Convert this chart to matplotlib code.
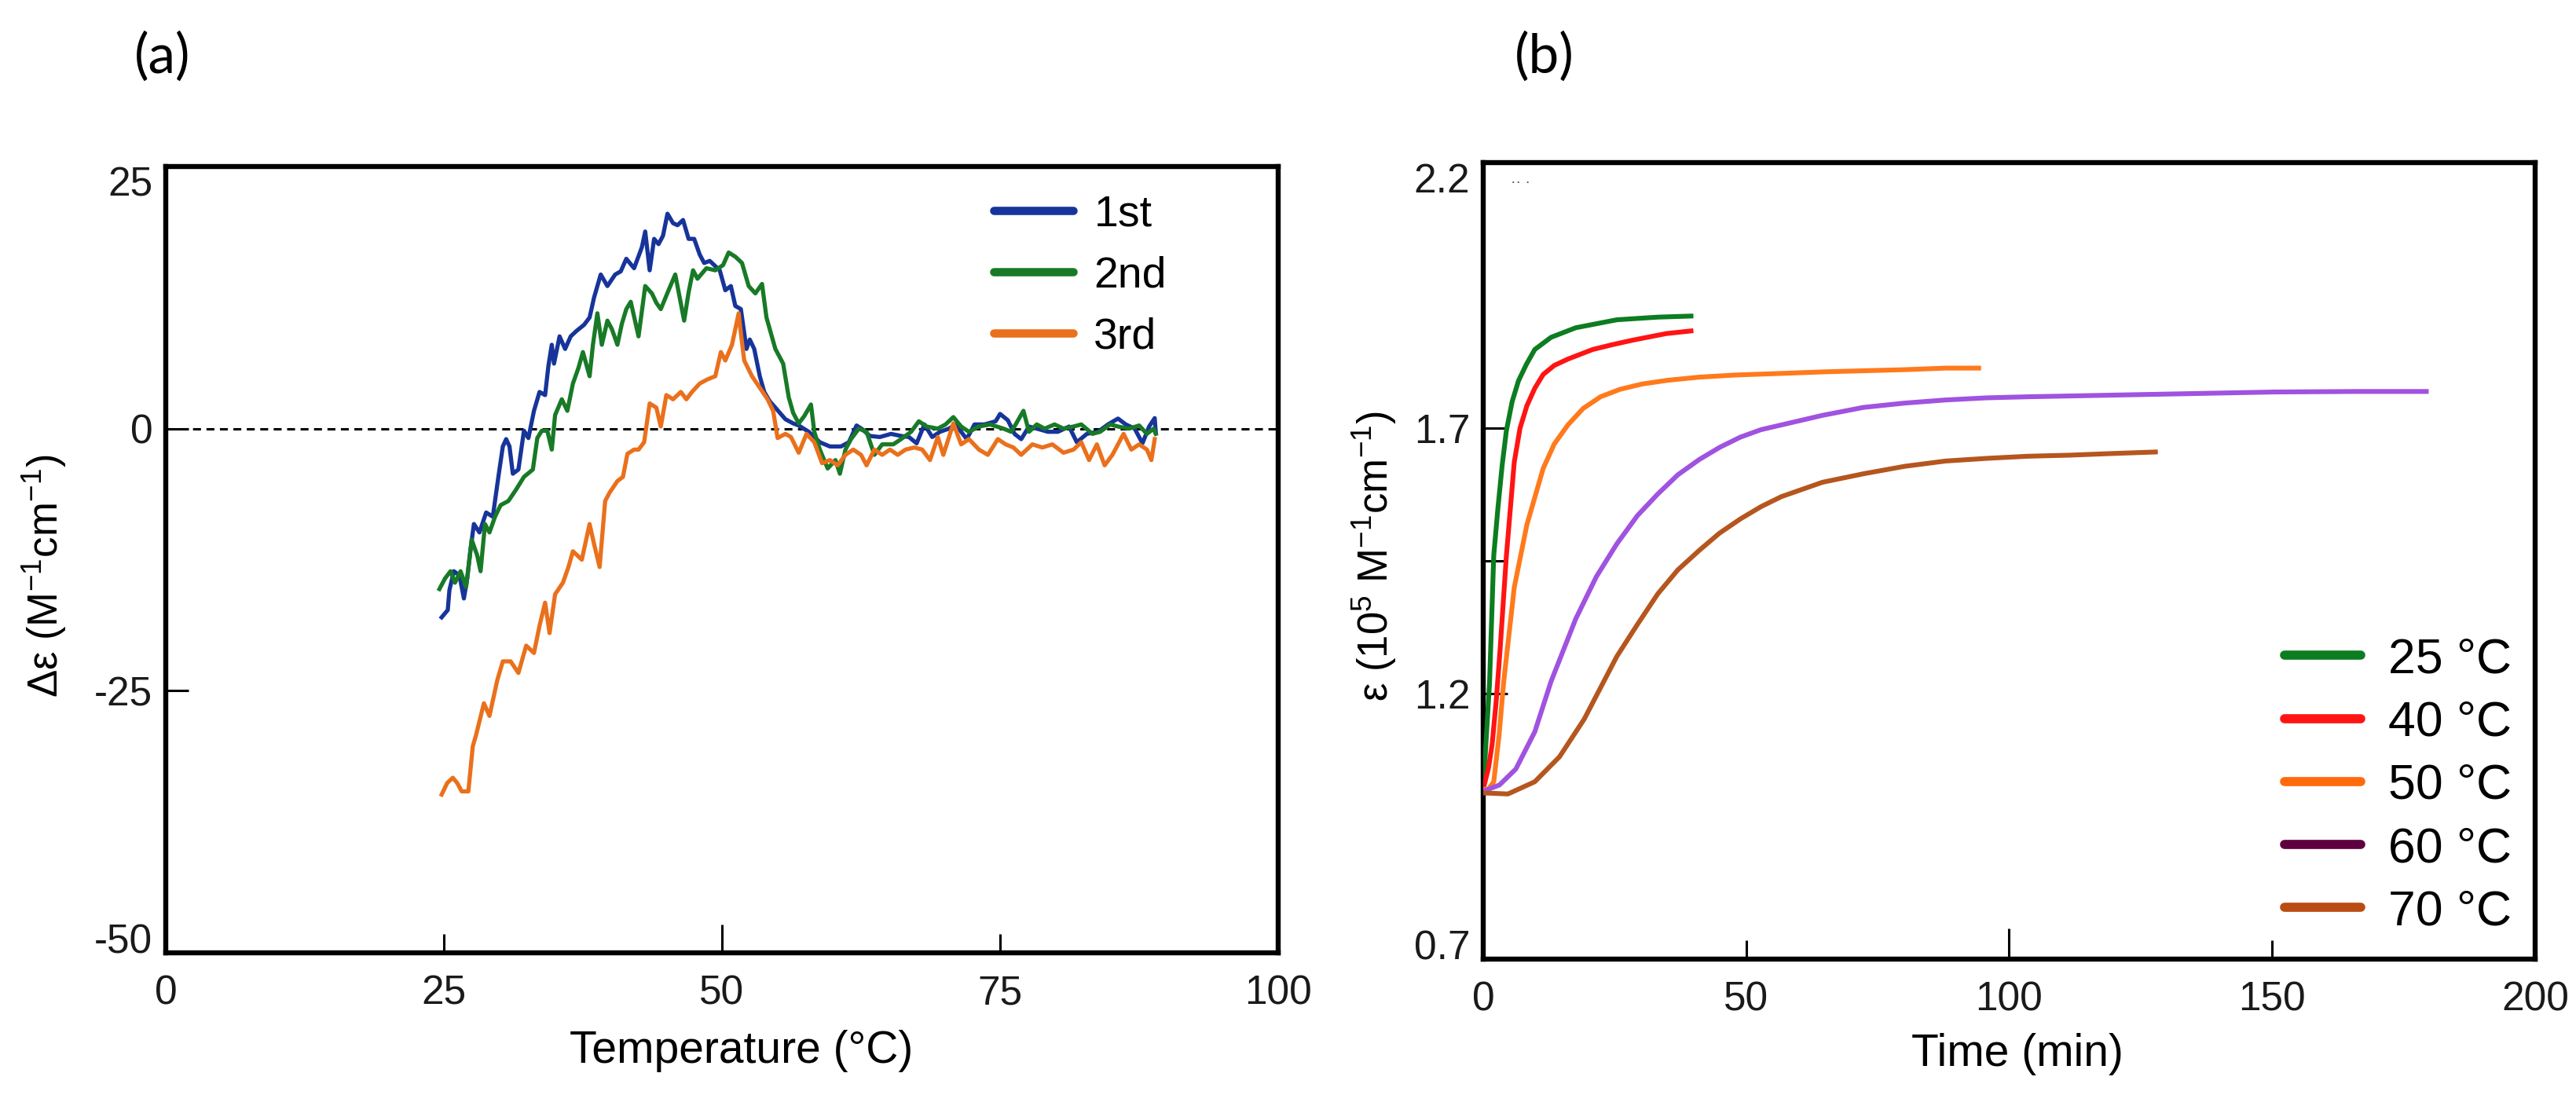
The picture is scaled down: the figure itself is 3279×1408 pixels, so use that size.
import matplotlib
matplotlib.use("Agg")
import matplotlib.pyplot as plt
from matplotlib.lines import Line2D

plt.rcParams['font.family'] = ['Liberation Sans', 'DejaVu Sans']
plt.rcParams['mathtext.fontset'] = 'custom'
plt.rcParams['mathtext.rm'] = 'Liberation Sans'
plt.rcParams['mathtext.default'] = 'regular'

# ---------------- Panel (a) data: (Temperature °C, Δε) ----------------
run1 = [(24.8,-18.0),(25.35,-17.3),(25.5,-15.4),(25.9,-13.6),(26.4,-14.0),(26.8,-16.2),(27.1,-14.3),
        (27.4,-11.5),(27.7,-9.1),(28.2,-9.9),(28.8,-8.0),(29.4,-8.4),(29.9,-4.6),(30.3,-1.7),(30.6,-1.0),
        (30.9,-1.7),(31.2,-4.3),(31.7,-3.9),(32.2,-0.2),(32.6,-0.9),(33.1,1.7),(33.6,3.5),(34.1,3.2),
        (34.4,6.0),(34.7,8.0),(34.9,6.2),(35.4,8.8),(35.9,7.6),(36.4,8.8),(36.9,9.3),(37.6,9.9),(38.1,10.6),
        (38.5,12.5),(39.1,14.7),(39.7,13.6),(40.4,14.7),(40.9,15.0),(41.4,16.2),(42.1,15.3),(42.8,17.3),
        (43.1,18.8),(43.5,15.1),(43.9,18.1),(44.3,17.6),(44.7,18.4),(45.1,20.5),(45.6,19.6),(46.0,19.4),
        (46.5,19.9),(47.0,18.1),(47.5,18.1),(48.0,16.6),(48.4,15.8),(48.9,16.0),(49.4,15.5),(49.8,15.1),
        (50.3,13.2),(50.8,13.6),(51.2,11.7),(51.7,11.4),(52.2,7.6),(52.5,8.5),(52.9,7.6),(53.4,5.0),
        (53.8,3.5),(54.3,2.6),(54.8,2.0),(55.7,0.9),(56.4,0.5),(56.9,0.3),(57.8,-0.3),(58.8,-1.3),
        (59.7,-1.7),(60.7,-1.7),(61.4,-1.3),(62.1,0.3),(62.6,-0.05),(63.3,-0.7),(64.2,-0.8),(65.2,-0.5),
        (66.1,-0.7),(66.8,-0.8),(67.5,-1.4),(68.2,0.4),(68.9,-0.8),(69.6,-0.3),(70.4,0.0),(71.0,0.4),
        (72.0,-1.0),(72.7,0.4),(73.6,0.4),(74.6,0.7),(75.0,1.4),(75.7,0.8),(76.3,-0.5),(76.9,-1.0),
        (77.6,0.2),(78.3,0.0),(79.3,-0.3),(80.2,-0.3),(81.2,0.2),(81.9,-1.3),(82.8,-0.5),(83.8,-0.3),
        (84.7,0.4),(85.6,0.96),(86.3,0.4),(87.1,0.0),(87.8,-1.4),(88.4,0.2),(88.9,1.0),(89.0,-0.4)]

run2 = [(24.6,-15.3),(25.1,-14.3),(25.6,-13.6),(26.0,-14.7),(26.5,-13.6),(27.0,-15.1),(27.5,-10.6),
        (28.0,-12.1),(28.3,-13.6),(28.7,-9.1),(29.1,-9.9),(29.6,-8.4),(30.1,-7.3),(30.8,-6.9),(31.5,-5.8),
        (32.2,-4.6),(33.0,-3.9),(33.4,-0.9),(33.8,-0.2),(34.3,-0.2),(34.7,-2.0),(35.0,1.3),(35.6,2.8),
        (36.1,1.7),(36.6,4.3),(37.1,5.8),(37.5,7.3),(38.1,5.0),(38.4,8.0),(38.8,11.0),(39.2,8.0),
        (39.7,10.3),(40.1,9.5),(40.6,8.0),(41.0,10.0),(41.4,11.4),(41.8,12.1),(42.5,8.8),(43.1,13.6),
        (43.7,12.9),(44.1,12.0),(44.5,11.4),(45.2,13.2),(45.8,14.7),(46.2,12.5),(46.6,10.3),(47.0,13.0),
        (47.4,15.1),(47.8,14.3),(48.6,15.3),(49.4,15.1),(50.1,15.6),(50.6,16.8),(51.2,16.4),(51.8,15.8),
        (52.4,13.6),(53.0,12.9),(53.6,13.8),(54.0,10.6),(54.8,7.6),(55.5,6.2),(56.0,3.0),(56.4,1.5),
        (56.9,0.5),(57.4,1.2),(58.0,2.3),(58.3,-0.3),(58.8,-2.0),(59.5,-3.8),(60.2,-3.0),(60.6,-4.3),
        (61.1,-2.0),(61.6,-1.0),(62.3,0.0),(63.0,-0.3),(63.7,-2.5),(64.4,-1.5),(65.4,-1.5),(66.1,-1.0),
        (67.0,-0.3),(67.7,0.7),(68.4,0.2),(69.4,0.0),(70.1,0.4),(70.8,1.1),(71.5,0.2),(72.2,-0.3),
        (73.1,0.2),(74.1,0.4),(75.3,0.0),(76.0,-0.3),(76.4,0.4),(77.1,1.7),(77.6,-0.3),(78.3,0.4),
        (79.0,0.0),(79.9,0.4),(80.7,0.0),(81.6,0.2),(82.3,0.4),(83.3,-0.5),(84.0,-0.3),(84.9,0.4),
        (85.6,0.2),(86.6,0.0),(87.5,0.3),(88.2,-0.5),(88.8,0.0),(89.0,-0.5)]

run3 = [(24.8,-34.9),(25.3,-33.8),(25.8,-33.3),(26.2,-33.8),(26.6,-34.6),(27.2,-34.6),(27.6,-30.3),
        (27.9,-29.2),(28.6,-26.2),(29.1,-27.4),(29.8,-24.0),(30.3,-22.2),(31.0,-22.2),(31.7,-23.3),
        (32.4,-20.7),(33.1,-21.4),(33.6,-18.8),(34.1,-16.6),(34.5,-19.5),(35.0,-15.8),(35.7,-14.7),
        (36.2,-13.2),(36.6,-11.7),(37.4,-12.5),(38.1,-9.1),(38.5,-11.0),(39.0,-13.2),(39.5,-6.9),
        (39.9,-6.1),(40.6,-5.0),(41.1,-4.6),(41.5,-2.4),(42.1,-2.0),(42.5,-2.0),(43.0,-1.3),(43.5,2.4),
        (44.1,2.0),(44.5,0.2),(45.0,3.2),(45.6,2.8),(46.3,3.5),(46.8,2.8),(47.3,3.5),(48.0,4.3),
        (48.7,4.7),(49.4,5.0),(49.9,7.3),(50.3,6.5),(50.9,8.0),(51.2,9.5),(51.5,11.0),(51.7,9.1),
        (52.0,6.5),(52.7,5.0),(53.4,3.9),(54.1,2.8),(54.6,1.7),(55.0,-0.9),(55.7,-0.5),(56.2,-0.8),
        (56.9,-2.3),(57.6,-0.5),(58.3,-1.3),(59.0,-3.3),(59.7,-3.0),(60.4,-3.5),(61.1,-2.5),(61.8,-2.0),
        (62.5,-2.5),(63.0,-3.5),(63.7,-2.0),(64.4,-2.5),(65.1,-2.0),(65.8,-2.5),(66.5,-2.0),(67.3,-1.8),
        (68.0,-2.0),(68.7,-3.0),(69.4,-0.8),(69.9,-2.5),(70.8,0.5),(71.5,-1.5),(72.2,-1.0),(73.1,-2.0),
        (73.9,-2.5),(74.8,-1.0),(75.5,-1.5),(76.2,-1.8),(76.9,-2.5),(77.9,-1.5),(78.8,-1.8),(79.7,-1.5),
        (80.7,-2.3),(81.6,-2.0),(82.3,-1.3),(83.0,-3.0),(83.7,-1.5),(84.4,-3.5),(85.1,-2.5),(86.1,-0.5),
        (86.8,-2.0),(87.5,-1.5),(88.2,-2.0),(88.6,-3.0),(88.9,-1.0)]

runs_a = [run1, run2, run3]
labels_a = ["1st", "2nd", "3rd"]
colors_a = ["#17349a", "#187a26", "#ea701c"]
xticks_a_major = [0, 50, 100]
xticks_a_minor = [25, 75]
yticks_a = [-50, -25, 0, 25]

# ---------------- Panel (b) data: time (min), ε (10^5 M^-1 cm^-1) ----------------
t25 = [0, 1.2, 2.0, 2.8, 3.6, 4.4, 5.5, 6.7, 8.2, 9.8, 12.9, 17.6, 25.4, 33.2, 39.5]
e25 = [1.02, 1.22, 1.46, 1.55, 1.63, 1.695, 1.75, 1.789, 1.82, 1.848, 1.871, 1.889, 1.904, 1.909, 1.911]
t40 = [0, 1.0, 1.7, 2.5, 3.2, 4.4, 5.9, 7.0, 8.3, 9.8, 11.4, 13.5, 16.1, 20.8, 24.5, 28.6, 34.8, 39.5]
e40 = [1.02, 1.06, 1.105, 1.19, 1.282, 1.459, 1.636, 1.70, 1.742, 1.775, 1.801, 1.818, 1.830, 1.848,
       1.857, 1.866, 1.878, 1.883]
t50 = [0, 1.0, 2.0, 3.0, 3.9, 5.9, 8.3, 11.4, 13.5, 16.1, 19, 22.3, 26, 30.2, 35, 41.1, 48, 56.7, 65,
       72.3, 80, 87.9, 94.2]
e50 = [1.02, 1.02, 1.034, 1.12, 1.223, 1.40, 1.518, 1.624, 1.67, 1.706, 1.737, 1.759, 1.773, 1.783,
       1.79, 1.796, 1.80, 1.803, 1.806, 1.808, 1.81, 1.813, 1.813]
t60 = [0, 3.1, 6.2, 9.8, 12.9, 17.6, 21.5, 25.4, 29.3, 33.2, 37, 41.1, 45.0, 48.9, 52.8, 56.7, 64.5,
       72.3, 80, 87.9, 95.7, 103.5, 119.2, 134.8, 150.4, 166.1, 179.3]
e60 = [1.016, 1.028, 1.058, 1.128, 1.223, 1.341, 1.42, 1.482, 1.535, 1.576, 1.612, 1.641, 1.664,
       1.683, 1.697, 1.706, 1.724, 1.739, 1.747, 1.753, 1.757, 1.759, 1.762, 1.765, 1.768, 1.769, 1.769]
t70 = [0, 4.7, 9.8, 14.5, 19.2, 25.4, 29.3, 33.2, 37, 41.1, 44.9, 48.9, 52.8, 56.7, 64.5, 72.3, 80.1,
       87.9, 95.7, 103.5, 111.4, 119.2, 127.8]
e70 = [1.013, 1.011, 1.034, 1.081, 1.152, 1.270, 1.33, 1.388, 1.433, 1.470, 1.502, 1.529, 1.552,
       1.571, 1.598, 1.614, 1.628, 1.638, 1.643, 1.647, 1.649, 1.652, 1.655]

times_b = [t25, t40, t50, t60, t70]
eps_b = [e25, e40, e50, e60, e70]
labels_b = ["25 °C", "40 °C", "50 °C", "60 °C", "70 °C"]
line_colors_b = ["#0c7d20", "#ff1414", "#ff7a1c", "#a052e0", "#b5561e"]
legend_colors_b = ["#0c7d20", "#ff1414", "#ff6a0c", "#5e0040", "#b84c12"]
xticks_b_major = [0, 100, 200]
xticks_b_minor = [50, 150]
yticks_b = [0.7, 1.2, 1.7, 2.2]

# ---------------- figure ----------------
W, H, DPI = 3280, 1408, 200
fig = plt.figure(figsize=(W / DPI, H / DPI), dpi=DPI)

def fx(px):
    return px / W

def fy(py):
    return 1 - py / H

axA = fig.add_axes([fx(211), fy(1213), fx(1627) - fx(211), fy(212) - fy(1213)])
axB = fig.add_axes([fx(1888), fy(1221), fx(3227) - fx(1888), fy(207) - fy(1221)])

spine_w = 2.3
tick_fs = 18.5
for ax in (axA, axB):
    for s in ax.spines.values():
        s.set_linewidth(spine_w)
    ax.tick_params(which='both', direction='in', width=1.1, labelsize=tick_fs,
                   labelcolor='#1a1a1a', top=False, right=False)
    ax.tick_params(which='major', length=10.5)
    ax.tick_params(which='minor', length=8.5)
    ax.tick_params(axis='x', which='both', pad=10)
    ax.tick_params(axis='y', which='both', pad=6.0)

# ---- panel (a)
axA.axhline(0, color='black', lw=1.1, dashes=(3.3, 2.3), zorder=1)
for data, lab, col in zip(runs_a, labels_a, colors_a):
    xs = [p[0] for p in data]
    ys = [p[1] for p in data]
    axA.plot(xs, ys, color=col, lw=1.9, label=lab, zorder=3)
axA.set_xlim(0, 100)
axA.set_ylim(-50, 25)
axA.set_xticks(xticks_a_major, labels=[str(v) for v in xticks_a_major])
axA.set_xticks(xticks_a_minor, labels=[str(v) for v in xticks_a_minor], minor=True)
axA.tick_params(axis='x', which='major', length=13)
axA.set_yticks(yticks_a, labels=[str(v) for v in yticks_a])
yl = axA.get_yticklabels()
yl[-1].set_verticalalignment('top')
yl[0].set_verticalalignment('baseline')

hA = [Line2D([], [], color=c, lw=3.8, solid_capstyle='round') for c in colors_a]
axA.legend(hA, labels_a, loc='upper left', bbox_to_anchor=(0.744, 0.965), frameon=False,
           borderpad=0, borderaxespad=0, fontsize=20, handlelength=1.83, handletextpad=0.47,
           labelspacing=0.47)

# ---- panel (b)
for t, e, c in zip(times_b, eps_b, line_colors_b):
    axB.plot(t, e, color=c, lw=2.2, zorder=3)
axB.set_xlim(0, 200)
axB.set_ylim(0.7, 2.2)
axB.set_xticks(xticks_b_major, labels=[str(v) for v in xticks_b_major])
axB.set_xticks(xticks_b_minor, labels=[str(v) for v in xticks_b_minor], minor=True)
axB.tick_params(axis='x', which='major', length=14)
axB.set_yticks(yticks_b, labels=[f"{v:.1f}" for v in yticks_b])
axB.set_yticks([1.45], minor=True)
axB.tick_params(axis='y', which='both', length=11)
ylb = axB.get_yticklabels()
ylb[-1].set_verticalalignment('top')
ylb[0].set_verticalalignment('baseline')
axB.text(0.026, 0.975, "·· ·", transform=axB.transAxes, fontsize=7, color='#555555',
         va='center', ha='left')

hB = [Line2D([], [], color=c, lw=4.2, solid_capstyle='round') for c in legend_colors_b]
axB.legend(hB, labels_b, loc='upper left', bbox_to_anchor=(0.762, 0.405), frameon=False,
           borderpad=0, borderaxespad=0, fontsize=22.5, handlelength=1.55, handletextpad=0.56,
           labelspacing=0.34)

# ---- axis labels and panel letters
fig.text(fx(944), fy(1338), "Temperature (°C)", ha='center', va='center', fontsize=20.5)
fig.text(fx(2568), fy(1342), "Time (min)", ha='center', va='center', fontsize=20.5)
fig.text(fx(57), fy(733), "Δε (M$^{-1}$cm$^{-1}$)", ha='center', va='center', rotation=90,
         fontsize=19)
fig.text(fx(1750), fy(708), "ε (10$^{5}$ M$^{-1}$cm$^{-1}$)", ha='center', va='center', rotation=90,
         fontsize=19)
fig.text(fx(207), fy(72), "(a)", ha='center', va='center', fontsize=25, family=['Lato', 'DejaVu Sans'])
fig.text(fx(1966), fy(72), "(b)", ha='center', va='center', fontsize=25, family=['Lato', 'DejaVu Sans'])

fig.savefig("out.png", dpi=DPI, facecolor='white')
